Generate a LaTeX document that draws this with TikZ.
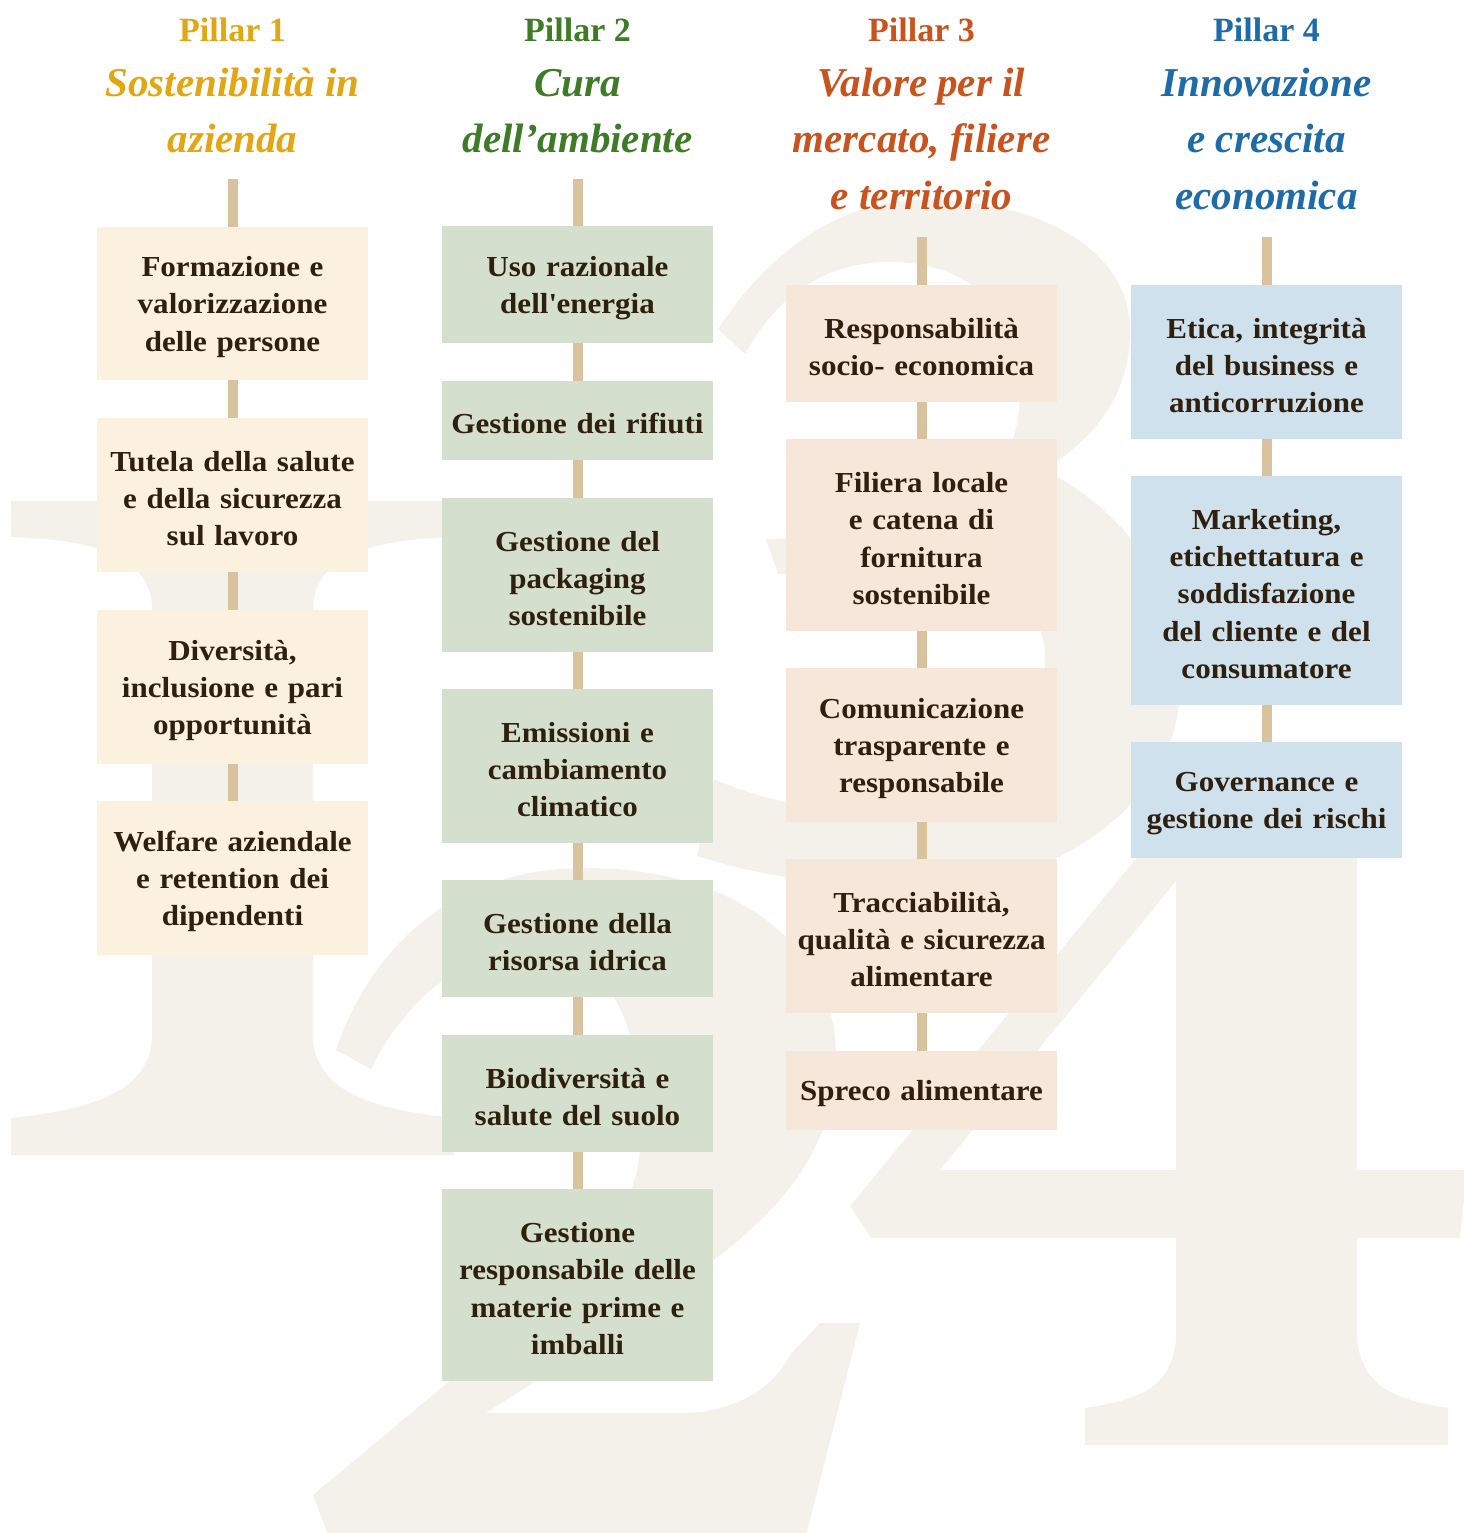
\documentclass[tikz,border=0pt]{standalone}
\usepackage{fontspec}
\setmainfont{Liberation Serif}
\newfontfamily\boxfont[FakeStretch=1.07, WordSpace=0.65]{Liberation Serif}
\definecolor{gold}{HTML}{E2A614}
\definecolor{grn}{HTML}{3E7B27}
\definecolor{org}{HTML}{C8531E}
\definecolor{blu}{HTML}{1E6BA8}
\definecolor{f1}{HTML}{FBF1DE}
\definecolor{f2}{HTML}{D4E0CD}
\definecolor{f3}{HTML}{F7E6DA}
\definecolor{f4}{HTML}{CFE1EC}
\definecolor{tan}{HTML}{D9C39F}
\definecolor{txt}{HTML}{2F1F0E}
\definecolor{digit}{HTML}{F4F1EA}
\begin{document}
\begin{tikzpicture}[x=1pt,y=-1pt,
  box/.style={minimum width=271pt, inner sep=0pt, text width=265pt, align=center,
    font=\boxfont\fontsize{29}{37.3}\selectfont\bfseries, text=txt,
    execute at begin node={\rule{0pt}{27pt}}},
  b1/.style={box, fill=f1}, b2/.style={box, fill=f2},
  b3/.style={box, fill=f3}, b4/.style={box, fill=f4},
  conn/.style={draw=tan, line width=10pt},
  pill/.style={font=\fontsize{34}{40}\selectfont\bfseries, anchor=base, inner sep=0pt},
  ttl/.style={font=\fontsize{41}{56}\selectfont\bfseries\itshape, anchor=base, inner sep=0pt},
  dig/.style={fill=digit, draw=none}]
\useasboundingbox (0,0) rectangle (1464,1533);
\begin{scope}
\clip (0,0) rectangle (1464,1533);
% digit 1
\fill[dig] (11,501) -- (454,501) -- (454,537) .. controls (360,540) and (318,560) .. (313,604)
  -- (313,1040) .. controls (318,1095) and (380,1110) .. (454,1118) -- (454,1155) -- (11,1155)
  -- (11,1118) .. controls (85,1110) and (147,1095) .. (152,1040) -- (152,604)
  .. controls (147,560) and (105,540) .. (11,537) -- cycle;
% digit 2
\fill[dig] (336,1050) .. controls (370,950) and (450,870) .. (580,868)
  .. controls (740,866) and (838,950) .. (836,1060)
  .. controls (834,1150) and (780,1210) .. (714,1260)
  .. controls (640,1315) and (560,1365) .. (486,1413) -- (686,1413)
  .. controls (740,1411) and (775,1385) .. (790,1355) -- (820,1323) -- (860,1323)
  -- (805,1540) -- (330,1540) -- (313,1495) -- (446,1384)
  .. controls (540,1305) and (635,1235) .. (640,1150)
  .. controls (645,1040) and (620,960) .. (540,950)
  .. controls (460,945) and (400,1010) .. (371,1069) -- cycle;
% digit 3
\fill[dig] (718,329) .. controls (770,250) and (840,202) .. (917,200)
  .. controls (1040,198) and (1130,250) .. (1130,330)
  .. controls (1130,400) and (1090,440) .. (1045,470)
  .. controls (1140,520) and (1182,600) .. (1180,690)
  .. controls (1178,800) and (1060,888) .. (921,888)
  .. controls (820,888) and (740,870) .. (697,856) -- (714,779)
  .. controls (760,800) and (830,815) .. (900,812)
  .. controls (990,808) and (1045,740) .. (1045,660)
  .. controls (1045,600) and (1000,570) .. (930,570) -- (778,574) -- (766,539) -- (900,536)
  .. controls (970,530) and (1020,470) .. (1020,390)
  .. controls (1020,310) and (970,262) .. (890,262)
  .. controls (820,262) and (775,300) .. (745,354) -- cycle;
% digit 4
\fill[dig, even odd rule] (1209,770) -- (1357,770) -- (1357,1170) -- (1467,1170) -- (1460,1238)
  -- (1357,1238) -- (1357,1339) .. controls (1362,1390) and (1400,1400) .. (1448,1408)
  -- (1448,1445) -- (1085,1445) -- (1085,1408) .. controls (1135,1400) and (1172,1390) .. (1176,1339)
  -- (1176,1238) -- (871,1238) -- (850,1206) -- cycle
  (1176,881) -- (1176,1170) -- (940,1170) -- cycle;
\end{scope}

% headers
\node[pill, text=gold] (p1) at (232.5,42) {Pillar 1};
\node[ttl, text=gold] (t1a) at (232.5,97) {Sostenibilità in};
\node[ttl, text=gold] (t1b) at (232.5,153) {azienda};
\node[pill, text=grn] (p2) at (577.5,42) {Pillar 2};
\node[ttl, text=grn] (t2a) at (577.5,97) {Cura};
\node[ttl, text=grn] (t2b) at (577.5,153) {dell’ambiente};
\node[pill, text=org] (p3) at (921.5,42) {Pillar 3};
\node[ttl, text=org] (t3a) at (921.5,97) {Valore per il};
\node[ttl, text=org] (t3b) at (921.5,153) {mercato, filiere};
\node[ttl, text=org] (t3c) at (921.5,209) {e territorio};
\node[pill, text=blu] (p4) at (1266.5,42) {Pillar 4};
\node[ttl, text=blu] (t4a) at (1266.5,97) {Innovazione};
\node[ttl, text=blu] (t4b) at (1266.5,153) {e crescita};
\node[ttl, text=blu] (t4c) at (1266.5,209) {economica};

\coordinate (s1) at (232.5,179);
\coordinate (s2) at (577.5,179);
\coordinate (s3) at (921.5,237);
\coordinate (s4) at (1266.5,237);

% column 1
\node[b1, minimum height=153pt] (a1) at (232.5,303.5) {Formazione e\\valorizzazione\\delle persone};
\node[b1, minimum height=154pt] (a2) at (232.5,495) {Tutela della salute\\e della sicurezza\\sul lavoro};
\node[b1, minimum height=154pt] (a3) at (232.5,687) {Diversità,\\inclusione e pari\\opportunità};
\node[b1, minimum height=154pt] (a4) at (232.5,878) {Welfare aziendale\\e retention dei\\dipendenti};
% column 2
\node[b2, minimum height=117pt] (c1) at (577.5,284.5) {Uso razionale\\dell\textquotesingle energia};
\node[b2, minimum height=79pt] (c2) at (577.5,420.5) {Gestione dei rifiuti};
\node[b2, minimum height=154pt] (c3) at (577.5,575) {Gestione del\\packaging\\sostenibile};
\node[b2, minimum height=154pt] (c4) at (577.5,766) {Emissioni e\\cambiamento\\climatico};
\node[b2, minimum height=117pt] (c5) at (577.5,938.5) {Gestione della\\risorsa idrica};
\node[b2, minimum height=117pt] (c6) at (577.5,1093.5) {Biodiversità e\\salute del suolo};
\node[b2, minimum height=192pt] (c7) at (577.5,1285) {Gestione\\responsabile delle\\materie prime e\\imballi};
% column 3
\node[b3, minimum height=117pt] (d1) at (921.5,343.5) {Responsabilità\\socio- economica};
\node[b3, minimum height=192pt] (d2) at (921.5,535) {Filiera locale\\e catena di\\fornitura\\sostenibile};
\node[b3, minimum height=154pt] (d3) at (921.5,745) {Comunicazione\\trasparente e\\responsabile};
\node[b3, minimum height=154pt] (d4) at (921.5,936) {Tracciabilità,\\qualità e sicurezza\\alimentare};
\node[b3, minimum height=79pt] (d5) at (921.5,1090.5) {Spreco alimentare};
% column 4
\node[b4, minimum height=154pt] (e1) at (1266.5,362) {Etica, integrità\\del business e\\anticorruzione};
\node[b4, minimum height=229pt] (e2) at (1266.5,590.5) {Marketing,\\etichettatura e\\soddisfazione\\del cliente e del\\consumatore};
\node[b4, minimum height=116pt] (e3) at (1266.5,800) {Governance e\\gestione dei rischi};

% connectors
\draw[conn] (s1) -- (a1.north);
\draw[conn] (a1.south) -- (a2.north);
\draw[conn] (a2.south) -- (a3.north);
\draw[conn] (a3.south) -- (a4.north);
\draw[conn] (s2) -- (c1.north);
\draw[conn] (c1.south) -- (c2.north);
\draw[conn] (c2.south) -- (c3.north);
\draw[conn] (c3.south) -- (c4.north);
\draw[conn] (c4.south) -- (c5.north);
\draw[conn] (c5.south) -- (c6.north);
\draw[conn] (c6.south) -- (c7.north);
\draw[conn] (s3) -- (d1.north);
\draw[conn] (d1.south) -- (d2.north);
\draw[conn] (d2.south) -- (d3.north);
\draw[conn] (d3.south) -- (d4.north);
\draw[conn] (d4.south) -- (d5.north);
\draw[conn] (s4) -- (e1.north);
\draw[conn] (e1.south) -- (e2.north);
\draw[conn] (e2.south) -- (e3.north);
\end{tikzpicture}
\end{document}
